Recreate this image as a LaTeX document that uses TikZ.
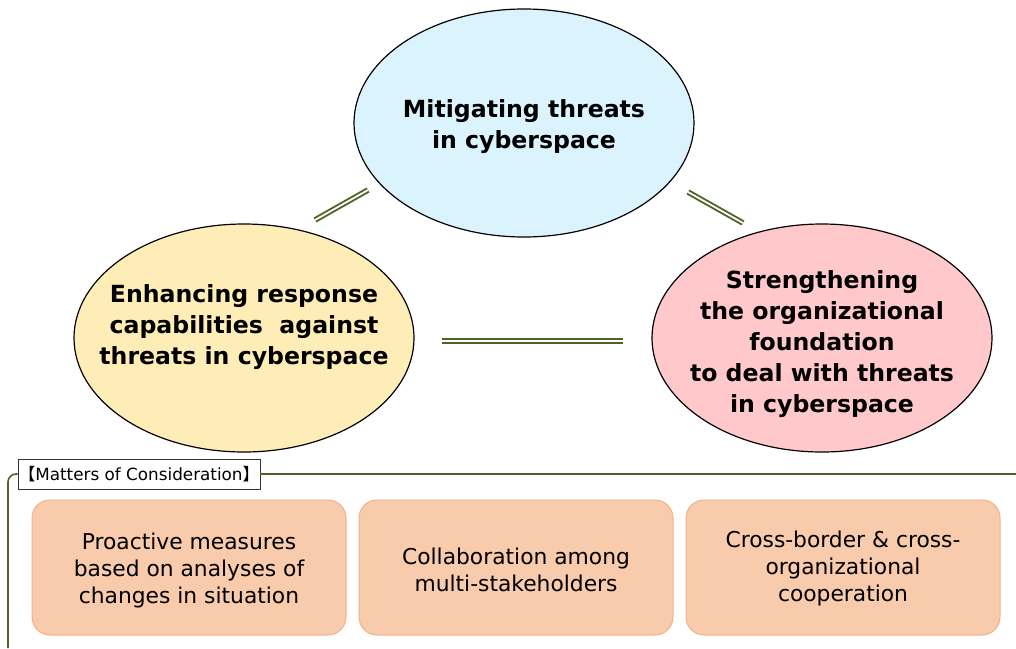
\documentclass[tikz,border=0pt]{standalone}
\usepackage{fontspec}
\setmainfont{DejaVu Sans}
\newfontfamily\cjk{Noto Sans CJK JP}
\usetikzlibrary{shapes.geometric}
\definecolor{linkgreen}{HTML}{4F6228}
\definecolor{skyfill}{HTML}{DAF3FC}
\definecolor{sandfill}{HTML}{FFEDB8}
\definecolor{rosefill}{HTML}{FFC9CB}
\definecolor{peachfill}{HTML}{F8CBAD}
\definecolor{peachline}{HTML}{F4B183}
\tikzset{
  goal/.style={ellipse, draw=black, line width=1.2pt, minimum width=340pt, minimum height=228pt,
    inner sep=0pt, outer sep=0pt},
  goaltext/.style={align=center, font=\fontsize{23.6}{31}\selectfont\bfseries, inner sep=0pt},
  link/.style={draw=linkgreen, double=white, line width=1.9pt, double distance=1.8pt},
  matter/.style={rectangle, rounded corners=18pt, draw=peachline, line width=1pt, fill=peachfill,
    minimum width=314pt, minimum height=135pt, align=center,
    font=\fontsize{21.8}{27}\selectfont, inner sep=0pt},
  mattertext/.style={align=center, font=\fontsize{21.8}{27}\selectfont, inner sep=0pt},
  tag/.style={rectangle, draw=black!80, line width=0.8pt, fill=white, minimum width=242pt,
    minimum height=30pt, inner sep=0pt, font=\fontsize{16.8}{19}\selectfont},
}
\begin{document}
\begin{tikzpicture}[x=1pt,y=-1pt]
\useasboundingbox (0,0) rectangle (1016,648);

% three goals
\node[goal, fill=skyfill] (mitigate) at (524,123) {};
\node[goaltext] at ([yshift=-4pt]mitigate.center) {Mitigating threats\\in cyberspace};
\node[goal, fill=sandfill] (respond) at (244,338) {};
\node[goaltext] at ([yshift=11pt]respond.center) {Enhancing response\\capabilities\ \ against\\threats in cyberspace};
\node[goal, fill=rosefill] (found) at (822,338) {};
\node[goaltext] at ([yshift=-6pt]found.center) {Strengthening\\the organizational\\foundation\\to deal with threats\\in cyberspace};

% double links between the goals
\coordinate (l1a) at (315,220); \coordinate (l1b) at (368,190);
\coordinate (l2a) at (688,192); \coordinate (l2b) at (743,223);
\coordinate (l3a) at (442,341); \coordinate (l3b) at (623,341);
\draw[link] (l1a) -- (l1b);
\draw[link] (l2a) -- (l2b);
\draw[link] (l3a) -- (l3b);

% frame of the considerations
\coordinate (fb) at (8,648);
\coordinate (fr) at (1016,474);
\node[tag] (tag) at (139,474) {{\cjk 【}Matters of Consideration{\cjk 】}};
\draw[linkgreen, line width=1.6pt, rounded corners=8pt] (fb) |- (tag.west);
\draw[linkgreen, line width=1.6pt] (tag.east) -- (fr);

% the considerations
\node[matter] (m1) at (189,567.5) {};
\node[mattertext] at ([yshift=-3pt]m1.center) {Proactive measures\\based on analyses of\\changes in situation};
\node[matter] (m2) at (516,567.5) {};
\node[mattertext] at ([yshift=-2pt]m2.center) {Collaboration among\\multi-stakeholders};
\node[matter] (m3) at (843,567.5) {};
\node[mattertext] at ([yshift=-1pt]m3.center) {Cross-border \& cross-\\organizational\\cooperation};
\end{tikzpicture}
\end{document}
